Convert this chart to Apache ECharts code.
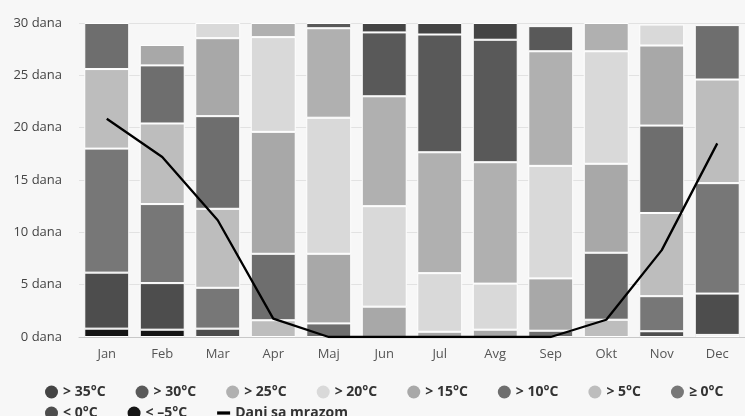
<!DOCTYPE html>
<html>
<head>
<meta charset="utf-8">
<script src="https://cdn.jsdelivr.net/npm/echarts@6/dist/echarts.min.js"></script>
<style>
html,body{margin:0;padding:0;background:#f7f7f7;}
#c{width:745px;height:416px;}
</style>
</head>
<body>
<div id="c"></div>
<script>
const months = ['Jan','Feb','Mar','Apr','Maj','Jun','Jul','Avg','Sep','Okt','Nov','Dec'];
const yTicks = [0,5,10,15,20,25,30];
// days per temperature class (stack order bottom -> top)
const ltMinus5 = [0.8,0.7,0,0,0,0,0,0,0,0,0,0.2];
const lt0      = [5.35,4.45,0.8,0,0,0,0,0,0,0,0.55,3.95];
const ge0      = [11.85,7.55,3.9,0,0,0,0,0,0,0,3.35,10.55];
const gt5      = [7.6,7.7,7.55,1.6,0,0,0,0,0,1.65,7.95,9.9];
const gt10     = [4.4,5.55,8.85,6.35,1.3,0,0,0,0.6,6.4,8.35,5.2];
const gt15     = [0,1.95,7.45,11.65,6.65,2.9,0.5,0.7,5.0,8.5,7.65,0];
const gt20     = [0,0,1.45,9.05,13.0,9.6,5.6,4.4,10.75,10.75,2.0,0];
const gt25     = [0,0,0,1.35,8.55,10.5,11.55,11.6,10.95,2.7,0,0];
const gt30     = [0,0,0,0,0.5,6.1,11.25,11.7,2.4,0,0,0];
const gt35     = [0,0,0,0,0,0.9,1.1,1.6,0,0,0,0];
const frostDays = [20.85,17.2,11.15,1.75,0,0,0,0,0,1.65,8.3,18.5];

const classes = [
  {name:'< –5°C', data:ltMinus5, color:'#151515'},
  {name:'< 0°C',  data:lt0,      color:'#4d4d4d'},
  {name:'≥ 0°C',  data:ge0,      color:'#777777'},
  {name:'> 5°C',  data:gt5,      color:'#bdbdbd'},
  {name:'> 10°C', data:gt10,     color:'#6e6e6e'},
  {name:'> 15°C', data:gt15,     color:'#a8a8a8'},
  {name:'> 20°C', data:gt20,     color:'#d9d9d9'},
  {name:'> 25°C', data:gt25,     color:'#b0b0b0'},
  {name:'> 30°C', data:gt30,     color:'#595959'},
  {name:'> 35°C', data:gt35,     color:'#444444'}
];
const lineName = 'Dani sa mrazom';

const series = classes.map(c => ({
  name: c.name,
  type: 'bar',
  stack: 'days',
  barWidth: '81%',
  data: c.data.map(v => v === 0 ? '-' : v),
  itemStyle: {color: c.color, borderColor: '#ffffff', borderWidth: 1},
  emphasis: {disabled: true}
}));
series.push({
  name: lineName,
  type: 'line',
  data: frostDays,
  symbol: 'none',
  z: 10,
  lineStyle: {color: '#000000', width: 2.3},
  itemStyle: {color: '#000000'}
});

const legendText = {fontFamily: 'Open Sans', fontSize: 14, fontWeight: 'bold', color: '#333'};
const legendBase = {
  padding: 0, itemWidth: 13, itemHeight: 13, itemGap: 30, icon: 'circle',
  itemStyle: {borderWidth: 0},
  textStyle: legendText
};
const chart = echarts.init(document.getElementById('c'), null, {renderer: 'canvas'});
chart.setOption({
  backgroundColor: '#f7f7f7',
  animation: false,
  grid: {left: 79, top: 23, width: 675, height: 314, containLabel: false},
  xAxis: {
    type: 'category',
    data: months,
    axisLine: {lineStyle: {color: '#c8c8c8'}},
    axisTick: {alignWithLabel: true, length: 9, lineStyle: {color: '#c8c8c8'}},
    axisLabel: {color: '#555', fontFamily: 'Open Sans', fontSize: 13, margin: 11}
  },
  yAxis: {
    type: 'value',
    min: yTicks[0],
    max: yTicks[yTicks.length - 1],
    interval: 5,
    axisLine: {show: false},
    axisTick: {show: false},
    axisLabel: {color: '#444', fontFamily: 'Open Sans', fontSize: 13, margin: 17, formatter: '{value} dana'},
    splitLine: {lineStyle: {color: '#e2e2e2'}}
  },
  legend: [
    Object.assign({}, legendBase, {
      left: 45, top: 385,
      data: ['> 35°C','> 30°C','> 25°C','> 20°C','> 15°C','> 10°C','> 5°C','≥ 0°C']
    }),
    Object.assign({}, legendBase, {
      left: 45, top: 406,
      data: ['< 0°C','< –5°C', {name: lineName, icon: 'path://M0,0h16v4h-16z'}]
    })
  ],
  series: series
});
</script>
</body>
</html>
